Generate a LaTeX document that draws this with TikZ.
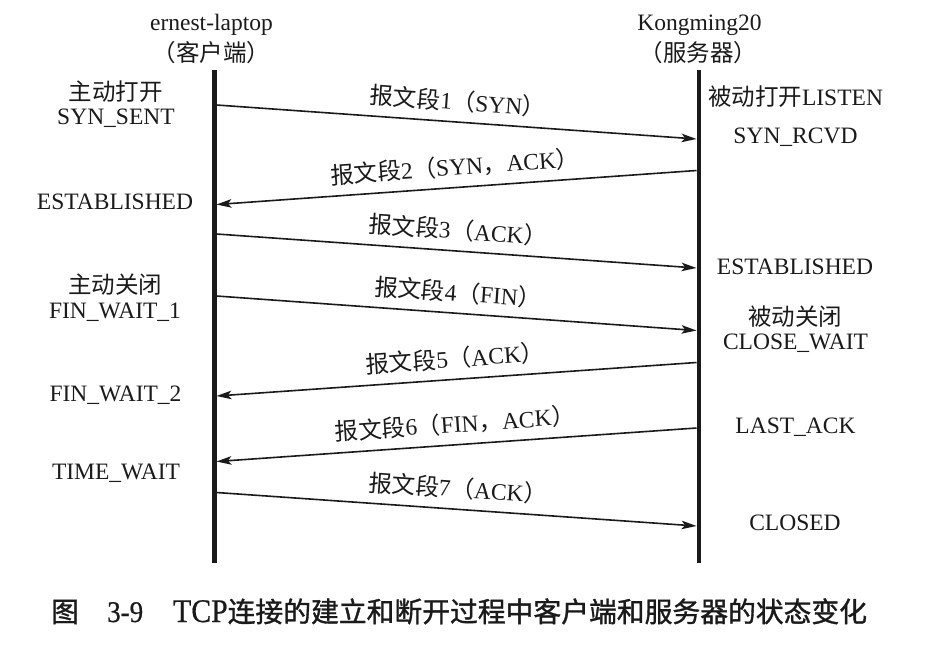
\documentclass[tikz,border=0pt]{standalone}
\usepackage{fontspec}
\setmainfont{Liberation Serif}
\newfontfamily\cjk{Noto Sans CJK SC}
\newfontfamily\cjkcap{Noto Sans CJK SC}[FakeBold=1.2]
\newfontfamily\capserif{Liberation Serif}[FakeStretch=0.9,FakeBold=0.6]
\usetikzlibrary{arrows.meta}
\newcommand\zh[1]{{\cjk #1}}
\definecolor{ink}{HTML}{1A1A1A}
\begin{document}
\begin{tikzpicture}[x=1pt,y=-1pt,
  >={Stealth[length=15pt,width=8.5pt,inset=3.5pt]},
  txt/.style={font=\fontsize{23.5}{27}\selectfont, text=ink, inner sep=0pt},
  life/.style={line width=4.5pt, draw=ink},
  msg/.style={line width=1.6pt, draw=ink},
  lbl/.style={txt, pos=0.5, sloped, above=9pt},
  captxt/.style={inner sep=0pt, anchor=base west, text=ink}]
\useasboundingbox (0,0) rectangle (951,651);
\fill[white] (0,0) rectangle (951,651);

% titles
\node[txt] (ct1) at (211.5,25) {ernest-laptop};
\node[txt] (ct2) at (211.5,53) {\zh{（客户端）}};
\node[txt] (st1) at (699.5,25) {Kongming20};
\node[txt] (st2) at (698.5,53) {\zh{（服务器）}};

% lifelines
\coordinate (ctop) at (214.5,70);
\coordinate (cbot) at (214.5,563);
\coordinate (stop) at (699,70);
\coordinate (sbot) at (699,563);
\draw[life] (ctop) -- (cbot);
\draw[life] (stop) -- (sbot);

% message end points
\coordinate (c1) at (216.5,105);   \coordinate (s1) at (696.5,139);
\coordinate (s2) at (696.5,170.5); \coordinate (c2) at (216.5,204.5);
\coordinate (c3) at (216.5,234);   \coordinate (s3) at (696.5,268);
\coordinate (c4) at (216.5,296);   \coordinate (s4) at (696.5,330.5);
\coordinate (s5) at (696.5,362.5); \coordinate (c5) at (216.5,396);
\coordinate (s6) at (696.5,428);   \coordinate (c6) at (216.5,461.5);
\coordinate (c7) at (216.5,492.5); \coordinate (s7) at (696.5,526);

\draw[msg,->] (c1) -- node[lbl] (m1) {\zh{报文段}1\zh{（}SYN\zh{）}} (s1);
\draw[msg,<-] (c2) -- node[lbl] (m2) {\zh{报文段}2\zh{（}SYN\zh{，}ACK\zh{）}} (s2);
\draw[msg,->] (c3) -- node[lbl] (m3) {\zh{报文段}3\zh{（}ACK\zh{）}} (s3);
\draw[msg,->] (c4) -- node[lbl] (m4) {\zh{报文段}4\zh{（}FIN\zh{）}} (s4);
\draw[msg,<-] (c5) -- node[lbl] (m5) {\zh{报文段}5\zh{（}ACK\zh{）}} (s5);
\draw[msg,<-] (c6) -- node[lbl] (m6) {\zh{报文段}6\zh{（}FIN\zh{，}ACK\zh{）}} (s6);
\draw[msg,->] (c7) -- node[lbl] (m7) {\zh{报文段}7\zh{（}ACK\zh{）}} (s7);

% client states
\node[txt] (l1a) at (115.5,92) {\zh{主动打开}};
\node[txt] (l1b) at (116,118) {SYN\_SENT};
\node[txt] (l2) at (115,202) {ESTABLISHED};
\node[txt] (l3a) at (115,285) {\zh{主动关闭}};
\node[txt] (l3b) at (115,312) {FIN\_WAIT\_1};
\node[txt] (l4) at (115.5,395) {FIN\_WAIT\_2};
\node[txt] (l5) at (116,473) {TIME\_WAIT};

% server states
\node[txt] (r1) at (795.5,97) {\zh{被动打开}LISTEN};
\node[txt] (r2) at (795.5,137) {SYN\_RCVD};
\node[txt] (r3) at (795,267) {ESTABLISHED};
\node[txt] (r4a) at (795,317) {\zh{被动关闭}};
\node[txt] (r4b) at (795.5,343) {CLOSE\_WAIT};
\node[txt] (r5) at (795.5,427) {LAST\_ACK};
\node[txt] (r6) at (795,523) {CLOSED};

% caption
\node[captxt] (cap1) at (51,622) {\fontsize{27.8}{30}\selectfont\cjkcap 图};
\node[captxt] (cap2) at (107,622) {\fontsize{30}{32}\selectfont\capserif 3-9};
\node[captxt] (cap3) at (173,622) {\fontsize{33}{35}\selectfont\capserif TCP\fontsize{27.8}{30}\selectfont\cjkcap 连接的建立和断开过程中客户端和服务器的状态变化};
\end{tikzpicture}
\end{document}
